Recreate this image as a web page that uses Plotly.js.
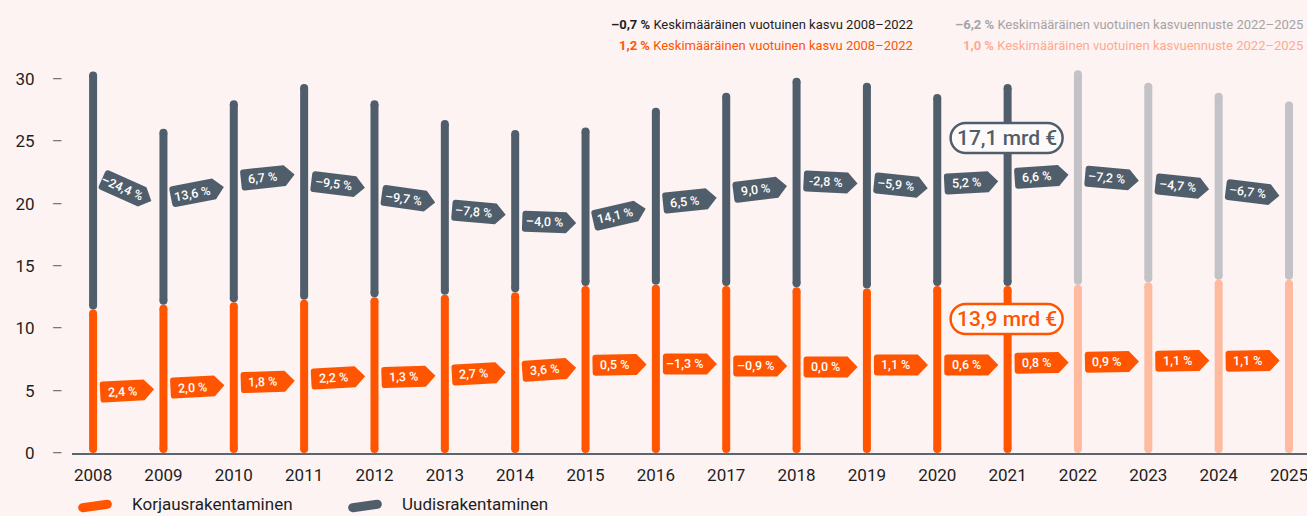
<!DOCTYPE html>
<html>
<head>
<meta charset="utf-8">
<script src="https://cdn.plot.ly/plotly-3.0.1.min.js"></script>
<style>
html,body{margin:0;padding:0;background:#fdf3f3;}
#chart{width:1307px;height:516px;}
</style>
</head>
<body>
<div id="chart"></div>
<script>
// ---------------- DATA ----------------
const years = [2008,2009,2010,2011,2012,2013,2014,2015,2016,2017,2018,2019,2020,2021,2022,2023,2024,2025];
// Korjausrakentaminen (renovation), mrd €
const korjaus = [11.5,11.9,12.1,12.3,12.5,12.7,12.9,13.4,13.5,13.4,13.3,13.2,13.4,13.4,13.5,13.7,13.9,13.9];
// Uudisrakentaminen (new construction), mrd €
const uudis = [19.1,14.1,16.2,17.3,15.8,14.0,13.0,12.7,14.2,15.5,16.8,16.5,15.4,16.2,17.2,16.0,15.0,14.3];
const forecastFrom = 2022;
// year-on-year change labels (placed after each year's bar)
const korjausGrowth = ["2,4 %","2,0 %","1,8 %","2,2 %","1,3 %","2,7 %","3,6 %","0,5 %","–1,3 %","–0,9 %","0,0 %","1,1 %","0,6 %","0,8 %","0,9 %","1,1 %","1,1 %"];
const uudisGrowth = ["–24,4 %","13,6 %","6,7 %","–9,5 %","–9,7 %","–7,8 %","–4,0 %","14,1 %","6,5 %","9,0 %","-2,8 %","–5,9 %","5,2 %","6,6 %","–7,2 %","–4,7 %","–6,7 %"];
const calloutYear = 2021;
const uudisCallout = "17,1 mrd €";
const korjausCallout = "13,9 mrd €";
const seriesNames = ["Korjausrakentaminen","Uudisrakentaminen"];
const headerHist = ["<b>–0,7 %</b> Keskimääräinen vuotuinen kasvu 2008–2022","<b>1,2 %</b> Keskimääräinen vuotuinen kasvu 2008–2022"];
const headerFc = ["<b>–6,2 %</b> Keskimääräinen vuotuinen kasvuennuste 2022–2025","<b>1,0 %</b> Keskimääräinen vuotuinen kasvuennuste 2022–2025"];
const yTicks = [0,5,10,15,20,25,30];

// ---------------- LAYOUT / STYLE ----------------
const FONT = "Roboto, 'Liberation Sans Narrow', sans-serif";
const C = {orange:'#ff5500', grey:'#505e6b', orangeL:'#ffbba0', greyL:'#c3c2c7', bg:'#fdf3f3', text:'#1e1e1e'};
const W=1307, H=516, M={l:72, r:0, t:60, b:63};
const xRange=[2007.70, 2025.256], yRange=[0, 31.52];
const pxPerY = (H-M.t-M.b)/(yRange[1]-yRange[0]);
const pxPerX = (W-M.l-M.r)/(xRange[1]-xRange[0]);
const capR = 4;
const capD = capR/pxPerY;
// tag placement (label layout)
const uudisTagY = [21.26,20.85,22.06,21.58,20.45,19.33,18.53,19.01,20.21,21.10,21.74,21.50,21.66,22.14,22.06,21.42,20.94];
const uudisTagAng = [24,-11,-6,7,8,5,2,-13,-6,-7,3,6,-3,-4,5,6,7];
const korjausTagY = [4.97,5.29,5.70,6.02,6.10,6.34,6.66,7.06,7.14,6.98,6.90,7.06,7.06,7.22,7.30,7.38,7.38];
const korjausTagAng = [-3,-3,-2,-3,-2,-3,-4,-1,0,0,0,0,0,-1,-1,-1,-1];
const tagShift = 29;

// ---------------- BARS ----------------
function segTrace(filter, baseFn, topFn, color){
  const xs=[], ys=[];
  years.forEach((yr,i)=>{
    if(!filter(yr)) return;
    xs.push(yr, yr, null);
    ys.push(baseFn(i)+capD, topFn(i)-capD, null);
  });
  return {type:'scatter', mode:'lines+markers', x:xs, y:ys, cliponaxis:false,
    line:{color:color, width:8}, marker:{color:color, size:8}, hoverinfo:'skip', showlegend:false};
}
const hist = yr=>yr<forecastFrom, fc = yr=>yr>=forecastFrom;
const traces = [
  segTrace(hist, i=>0, i=>korjaus[i], C.orange),
  segTrace(fc, i=>0, i=>korjaus[i], C.orangeL),
  segTrace(hist, i=>korjaus[i], i=>korjaus[i]+uudis[i], C.grey),
  segTrace(fc, i=>korjaus[i], i=>korjaus[i]+uudis[i], C.greyL)
];

// ---------------- SHAPE HELPERS ----------------
function fmt(n){return n.toFixed(2);}
function buildPath(cmds, deg, dx){
  const t=deg*Math.PI/180, c=Math.cos(t), s=Math.sin(t);
  return cmds.map(cmd=>{
    if(cmd[0]==='Z') return 'Z';
    const op=cmd[0]; const pts=cmd.slice(1);
    return op + pts.map(([x,y])=>{
      const xr = x*c - y*s + dx, yr = x*s + y*c;
      return fmt(xr)+','+fmt(-yr);
    }).join(' ');
  }).join(' ');
}
function tagCmds(){
  const L=-22,R=22,T=-10.5,B=10.5,tip=32,r=3;
  return [['M',[L+r,T]],['L',[R,T]],['L',[tip,0]],['L',[R,B]],['L',[L+r,B]],
          ['Q',[L,B],[L,B-r]],['L',[L,T+r]],['Q',[L,T],[L+r,T]],['Z']];
}
function pillCmds(w,h){
  const x0=-w/2,x1=w/2,y0=-h/2,y1=h/2,r=h/2,k=0.5523*r;
  return [['M',[x0+r,y0]],['L',[x1-r,y0]],['C',[x1-r+k,y0],[x1,y0+r-k],[x1,y0+r]],
    ['L',[x1,y1-r]],['C',[x1,y1-r+k],[x1-r+k,y1],[x1-r,y1]],['L',[x0+r,y1]],
    ['C',[x0+r-k,y1],[x0,y1-r+k],[x0,y1-r]],['L',[x0,y0+r]],['C',[x0,y0+r-k],[x0+r-k,y0],[x0+r,y0]],['Z']];
}

const shapes=[], annotations=[];
function addTags(labels, tagY, tagAng, color){
  labels.forEach((lab,i)=>{
    shapes.push({type:'path', xref:'x', yref:'y', xsizemode:'pixel', ysizemode:'pixel',
      xanchor:years[i], yanchor:tagY[i], path:buildPath(tagCmds(), tagAng[i], tagShift),
      fillcolor:color, line:{width:0,color:'rgba(0,0,0,0)'}, layer:'above'});
    annotations.push({x:years[i], y:tagY[i], xref:'x', yref:'y', xshift:tagShift, text:lab,
      textangle:tagAng[i], showarrow:false, xanchor:'center', yanchor:'middle',
      font:{family:FONT, size:12.5, weight:500, color:'#ffffff'}});
  });
}
addTags(uudisGrowth, uudisTagY, uudisTagAng, C.grey);
addTags(korjausGrowth, korjausTagY, korjausTagAng, C.orange);

// callouts
function addPill(label, yv, color){
  shapes.push({type:'path', xref:'x', yref:'y', xsizemode:'pixel', ysizemode:'pixel',
    xanchor:calloutYear, yanchor:yv, path:buildPath(pillCmds(112,30),0,-1),
    fillcolor:'#fffafa', line:{width:2.5,color:color}, layer:'above'});
  annotations.push({x:calloutYear, y:yv, xref:'x', yref:'y', xshift:-1, yshift:0, text:label, showarrow:false,
    xanchor:'center', yanchor:'middle', font:{family:FONT, size:21, weight:500, color:color}});
}
addPill(uudisCallout, 25.27, C.grey);
addPill(korjausCallout, 10.75, C.orange);

// helpers pixel -> paper
function px2paperX(px){return (px-M.l)/(W-M.l-M.r);}
function px2paperY(py){return (H-M.b-py)/(H-M.t-M.b);}

// headers
const hfont = 13;
annotations.push({x:px2paperX(915),y:px2paperY(24),xref:'paper',yref:'paper',text:headerHist[0],showarrow:false,xanchor:'right',yanchor:'middle',font:{family:FONT,size:hfont,color:C.text}});
annotations.push({x:px2paperX(915),y:px2paperY(45),xref:'paper',yref:'paper',text:headerHist[1],showarrow:false,xanchor:'right',yanchor:'middle',font:{family:FONT,size:hfont,color:C.orange}});
annotations.push({x:px2paperX(1305),y:px2paperY(24),xref:'paper',yref:'paper',text:headerFc[0],showarrow:false,xanchor:'right',yanchor:'middle',font:{family:FONT,size:hfont,color:'#a4a4a6'}});
annotations.push({x:px2paperX(1305),y:px2paperY(45),xref:'paper',yref:'paper',text:headerFc[1],showarrow:false,xanchor:'right',yanchor:'middle',font:{family:FONT,size:hfont,color:'#ffaa8e'}});

// legend (custom)
[[95,C.orange,130,seriesNames[0]],[365,C.grey,400,seriesNames[1]]].forEach(([cx,col,tx,name])=>{
  shapes.push({type:'path', xref:'paper', yref:'paper', xsizemode:'pixel', ysizemode:'pixel',
    xanchor:px2paperX(cx), yanchor:px2paperY(506), path:buildPath(pillCmds(34,9),-8,0),
    fillcolor:col, line:{width:0,color:'rgba(0,0,0,0)'}, layer:'above'});
  annotations.push({x:px2paperX(tx), y:px2paperY(504), xref:'paper', yref:'paper', text:name, showarrow:false,
    xanchor:'left', yanchor:'middle', font:{family:FONT,size:17,color:C.text}});
});

const layout = {
  width:W, height:H, margin:M, paper_bgcolor:C.bg, plot_bgcolor:C.bg,
  font:{family:FONT, color:C.text},
  xaxis:{range:xRange, tickvals:years, ticktext:years.map(String), showgrid:false, zeroline:false,
    showline:true, linecolor:'#5a6570', linewidth:1.5, ticks:'', ticklabelstandoff:6, ticklabeloverflow:'allow',
    tickfont:{family:FONT,size:17,color:C.text}, fixedrange:true},
  yaxis:{range:yRange, tickvals:yTicks, ticktext:yTicks.map(v=>v+"\u2002\u2002<span style='color:#777'>–</span>"),
    showgrid:false, zeroline:false, showline:false, ticks:'', ticklabelstandoff:8,
    tickfont:{family:FONT,size:17,color:C.text}, fixedrange:true},
  shapes:shapes, annotations:annotations, showlegend:false
};
Plotly.newPlot('chart', traces, layout, {displayModeBar:false, staticPlot:true});
</script>
</body>
</html>
